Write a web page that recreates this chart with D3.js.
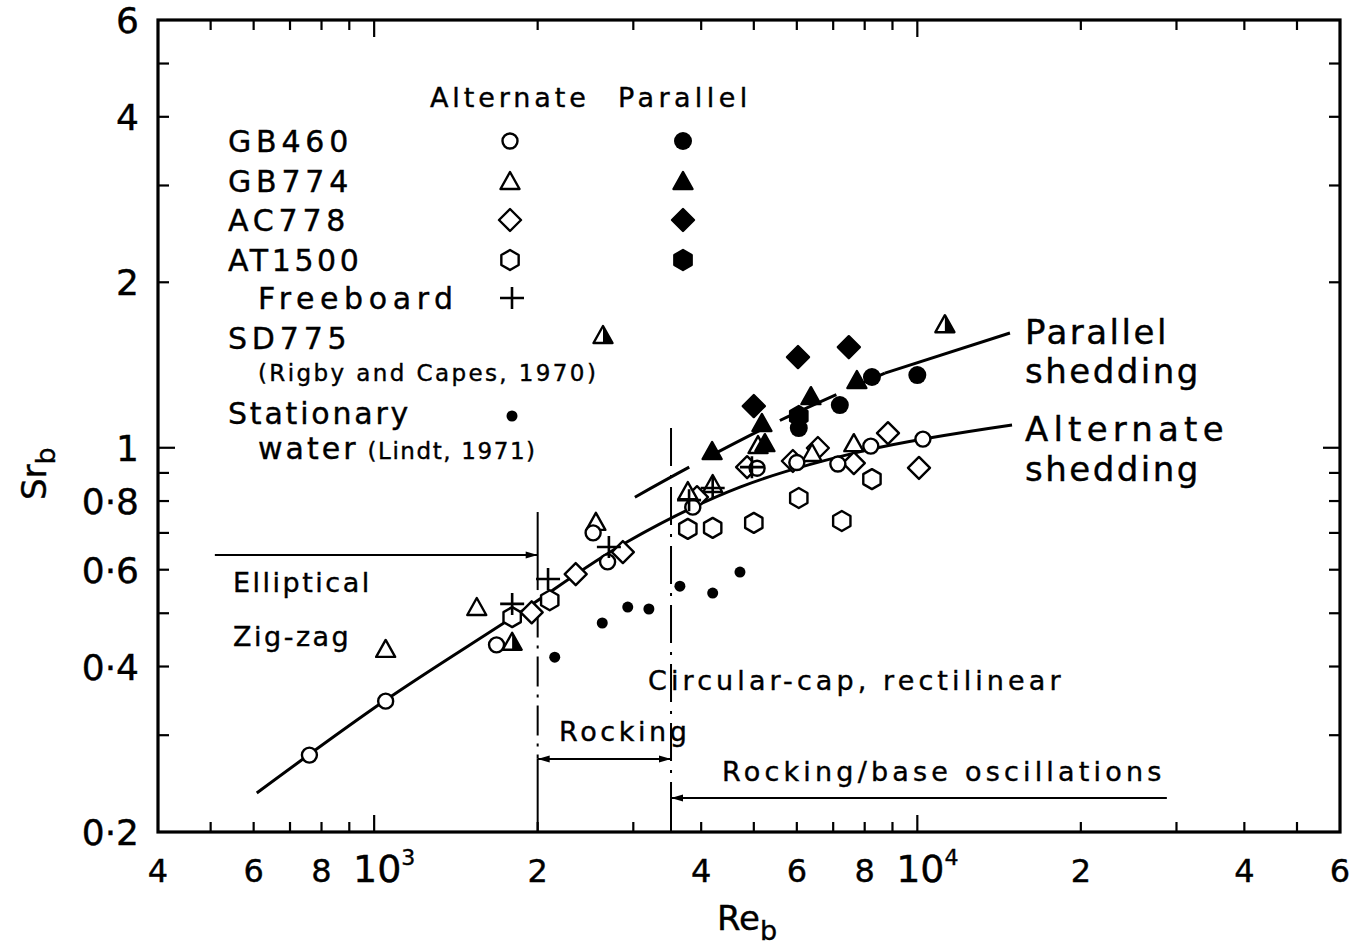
<!DOCTYPE html>
<html>
<head>
<meta charset="utf-8">
<script src="https://cdn.jsdelivr.net/npm/d3@7"></script>
<style>
  body { margin: 0; background: #fff; }
  svg text { font-family: "DejaVu Sans", sans-serif; fill: #000; stroke: #000; stroke-width: 0.4; }
</style>
</head>
<body>
<svg id="chart" width="1356" height="946"></svg>
<script>
// ---- data (Re_b, Sr_b) ----
const gb460Alt = [[760,0.276],[1050,0.346],[1680,0.438],[2530,0.70],[2690,0.62],[3860,0.78],
                  [5070,0.918],[6000,0.94],[7140,0.934],[8210,1.007],[10240,1.037]];
const gb460Par = [[6050,1.086],[7200,1.196],[8250,1.345],[10000,1.356]];
const gb774Alt = [[1050,0.427],[1545,0.509],[2560,0.727],[3780,0.827],[4200,0.852],
                  [5090,1.003],[6400,0.97],[7640,1.011]];
const gb774Par = [[4190,0.978],[5175,1.10],[5240,1.011],[6370,1.231],[7740,1.317]];
const ac778Alt = [[1950,0.502],[2350,0.589],[2870,0.646],[3930,0.813],[4860,0.922],
                  [5900,0.946],[6560,0.999],[7640,0.938],[8830,1.063],[10070,0.919]];
const ac778Par = [[5000,1.191],[6030,1.462],[7480,1.524]];
const at1500Alt = [[1795,0.492],[2105,0.528],[3780,0.712],[4200,0.715],[5000,0.73],
                   [6050,0.81],[7260,0.736],[8250,0.877]];
const at1500Par = [[6050,1.142]];
const freeboard = [[1795,0.52],[2090,0.577],[2705,0.66],[3800,0.803],[4200,0.845],[4960,0.922]];
const sd775 = [[1795,0.44],[11240,1.664]];
const stationary = [[2150,0.416],[2630,0.48],[2930,0.513],[3205,0.509],[3655,0.56],[4200,0.544],[4715,0.594]];

// fitted curves
const alternateCurve = [[608,0.2355],[1050,0.3475],[1801,0.492],[2920,0.674],[4715,0.848],[8076,0.99],[14940,1.10]];
const parallelDashed = [[3020,0.813],[3929,0.938],[5754,1.137],[8716,1.367]];
const parallelSolid = [[8716,1.367],[14810,1.617]];

// regime boundaries
const reEllipticEnd = 2000;
const reRockingEnd = 3520;
const reEllipticStart = 509;
const reBaseEnd = 28800;
const srEllipticArrow = 0.638;
const srRockingArrow = 0.2715;
const srBaseArrow = 0.2306;

// axes
const xTickValues = [500,600,700,800,900,1000,2000,3000,4000,5000,6000,7000,8000,9000,10000,20000,30000,40000,50000];
const xMajor = [1000,10000];
const xLabelValues = [400,600,800,1000,2000,4000,6000,8000,10000,20000,40000,60000];
const xLabelText = ['4','6','8','10','2','4','6','8','10','2','4','6'];
const xLabelSup = ['','','','3','','','','','4','','',''];
const yTickValues = [0.3,0.4,0.5,0.6,0.7,0.8,0.9,1,2,3,4,5];
const yMajor = [1];
const yLabelValues = [0.2,0.4,0.6,0.8,1,2,4,6];
const yLabelText = ['0·2','0·4','0·6','0·8','1','2','4','6'];

// ---- drawing ----
const svg = d3.select('#chart');
const x = d3.scaleLog().domain([400, 60000]).range([158, 1340]);
const y = d3.scaleLog().domain([0.2, 6]).range([832, 20]);
const plotL = x.range()[0], plotR = x.range()[1], plotT = y.range()[1], plotB = y.range()[0];

// ticks
const tk = svg.append('g').attr('stroke', '#000').attr('stroke-width', 2.2);
xTickValues.forEach(v => {
  const len = xMajor.includes(v) ? 17 : 10;
  tk.append('line').attr('x1', x(v)).attr('x2', x(v)).attr('y1', plotB).attr('y2', plotB - len);
  tk.append('line').attr('x1', x(v)).attr('x2', x(v)).attr('y1', plotT).attr('y2', plotT + len);
});
yTickValues.forEach(v => {
  const len = yMajor.includes(v) ? 17 : 11;
  tk.append('line').attr('y1', y(v)).attr('y2', y(v)).attr('x1', plotL).attr('x2', plotL + len);
  tk.append('line').attr('y1', y(v)).attr('y2', y(v)).attr('x1', plotR).attr('x2', plotR - len);
});

// tick labels
xLabelValues.forEach((v, i) => {
  const t = svg.append('text').attr('y', 882).attr('font-size', xLabelSup[i] ? 38 : 32)
    .attr('text-anchor', 'middle').attr('x', x(v) + (xLabelSup[i] ? 10 : 0)).text(xLabelText[i]);
  if (xLabelSup[i]) t.append('tspan').attr('font-size', 22).attr('dy', -17).text(xLabelSup[i]);
});
yLabelValues.forEach((v, i) => {
  svg.append('text').attr('x', 139).attr('y', y(v) + 13).attr('font-size', 36)
    .attr('text-anchor', 'end').text(yLabelText[i]);
});

// axis titles
svg.append('text').attr('transform', 'translate(46,500) rotate(-90)').attr('font-size', 34)
  .text('Sr').append('tspan').attr('font-size', 27).attr('dy', 9).text('b');
svg.append('text').attr('x', 717).attr('y', 930).attr('font-size', 34)
  .text('Re').append('tspan').attr('font-size', 27).attr('dy', 10).text('b');

// curves
const line = d3.line().x(d => x(d[0])).y(d => y(d[1])).curve(d3.curveCatmullRom.alpha(0.5));
svg.append('path').datum(alternateCurve).attr('d', line)
  .attr('fill', 'none').attr('stroke', '#000').attr('stroke-width', 3);
svg.append('path').datum(parallelDashed).attr('d', line)
  .attr('fill', 'none').attr('stroke', '#000').attr('stroke-width', 3).attr('stroke-dasharray', '62,20');
svg.append('path').datum(parallelSolid).attr('d', line)
  .attr('fill', 'none').attr('stroke', '#000').attr('stroke-width', 3);

// regime annotations
const ann = svg.append('g').attr('stroke', '#000').attr('stroke-width', 2).attr('fill', 'none');
function vline(re, s1, s2, dash) {
  const l = ann.append('line').attr('x1', x(re)).attr('x2', x(re)).attr('y1', y(s1)).attr('y2', y(s2));
  if (dash) l.attr('stroke-dasharray', dash);
}
vline(reEllipticEnd, 0.764, 0.551);
vline(reEllipticEnd, 0.512, 0.272, '30,8,3,8');
vline(reEllipticEnd, 0.272, 0.2);
vline(reRockingEnd, 1.086, 0.2306, '38,9,3,9');
vline(reRockingEnd, 0.2306, 0.2);
function hline(re1, re2, s) {
  ann.append('line').attr('x1', x(re1)).attr('x2', x(re2)).attr('y1', y(s)).attr('y2', y(s));
}
function head(re, s, dir) {
  const px = x(re), py = y(s);
  svg.append('path').attr('fill', '#000')
    .attr('d', `M${px},${py} L${px - dir * 12},${py - 3.5} L${px - dir * 12},${py + 3.5} Z`);
}
hline(reEllipticStart, reEllipticEnd, srEllipticArrow);
head(reEllipticEnd, srEllipticArrow, 1);
hline(reEllipticEnd, reRockingEnd, srRockingArrow);
head(reEllipticEnd, srRockingArrow, -1);
head(reRockingEnd, srRockingArrow, 1);
hline(reRockingEnd, reBaseEnd, srBaseArrow);
head(reRockingEnd, srBaseArrow, -1);

// annotation text
function label(txt, px, py, size, ls) {
  return svg.append('text').attr('x', px).attr('y', py).attr('font-size', size)
    .attr('letter-spacing', ls).text(txt);
}
label('Elliptical', 233, 592, 27, 2.5);
label('Zig-zag', 233, 646, 27, 2.5);
label('Circular-cap, rectilinear', 648, 690, 27, 4.1);
label('Rocking', 559, 741, 27, 3.6);
label('Rocking/base oscillations', 722, 781, 27, 4.2);
label('Parallel', 1025, 344, 34, 2.5);
label('shedding', 1025, 383, 34, 2.5);
label('Alternate', 1025, 441, 34, 5.2);
label('shedding', 1025, 481, 34, 2.5);

// markers
function marker(g, kind, filled, px, py) {
  const fill = filled ? '#000' : '#fff';
  const sw = 2.4;
  if (kind === 'circle') {
    g.append('circle').attr('cx', px).attr('cy', py).attr('r', filled ? 9 : 7.5)
      .attr('fill', fill).attr('stroke', '#000').attr('stroke-width', filled ? 0 : sw);
  } else if (kind === 'triangle') {
    g.append('path').attr('d', `M${px},${py - 11}L${px + 9.5},${py + 6}L${px - 9.5},${py + 6}Z`)
      .attr('fill', fill).attr('stroke', '#000').attr('stroke-width', sw).attr('stroke-linejoin', 'round');
  } else if (kind === 'half') {
    g.append('path').attr('d', `M${px},${py - 11}L${px + 9.5},${py + 6}L${px - 9.5},${py + 6}Z`)
      .attr('fill', '#fff').attr('stroke', '#000').attr('stroke-width', sw).attr('stroke-linejoin', 'round');
    g.append('path').attr('d', `M${px},${py - 11}L${px + 9.5},${py + 6}L${px},${py + 6}Z`).attr('fill', '#000');
  } else if (kind === 'diamond') {
    g.append('path').attr('d', `M${px},${py - 11}L${px + 11},${py}L${px},${py + 11}L${px - 11},${py}Z`)
      .attr('fill', fill).attr('stroke', '#000').attr('stroke-width', sw).attr('stroke-linejoin', 'round');
  } else if (kind === 'hexagon') {
    const pts = d3.range(6).map(k => {
      const a = (-90 + 60 * k) * Math.PI / 180;
      return [px + 10 * Math.cos(a), py + 10 * Math.sin(a)];
    });
    g.append('path').attr('d', 'M' + pts.join('L') + 'Z')
      .attr('fill', fill).attr('stroke', '#000').attr('stroke-width', sw).attr('stroke-linejoin', 'round');
  } else if (kind === 'plus') {
    g.append('path').attr('d', `M${px - 12},${py}H${px + 12}M${px},${py - 11}V${py + 11}`)
      .attr('stroke', '#000').attr('stroke-width', 2.6);
  } else if (kind === 'dot') {
    g.append('circle').attr('cx', px).attr('cy', py).attr('r', 5.5).attr('fill', '#000');
  }
}

const series = [
  { data: stationary, kind: 'dot', filled: true },
  { data: at1500Alt, kind: 'hexagon', filled: false },
  { data: ac778Alt, kind: 'diamond', filled: false },
  { data: gb774Alt, kind: 'triangle', filled: false },
  { data: gb460Alt, kind: 'circle', filled: false },
  { data: ac778Par, kind: 'diamond', filled: true },
  { data: gb774Par, kind: 'triangle', filled: true },
  { data: at1500Par, kind: 'hexagon', filled: true },
  { data: gb460Par, kind: 'circle', filled: true },
  { data: sd775, kind: 'half', filled: false },
  { data: freeboard, kind: 'plus', filled: false }
];
const pts = svg.append('g');
series.forEach(s => s.data.forEach(d => marker(pts, s.kind, s.filled, x(d[0]), y(d[1]))));

// legend
const leg = svg.append('g');
label('Alternate', 430, 107, 27, 3.9);
label('Parallel', 618, 107, 27, 4.4);
const legendRows = [
  { name: 'GB460', kind: 'circle', y: 141 },
  { name: 'GB774', kind: 'triangle', y: 181 },
  { name: 'AC778', kind: 'diamond', y: 220 },
  { name: 'AT1500', kind: 'hexagon', y: 260 }
];
legendRows.forEach(r => {
  label(r.name, 228, r.y + 11, 30, r.name.length > 5 ? 3.6 : 4.8);
  marker(leg, r.kind, false, 510, r.y + (r.kind === 'triangle' ? 2 : 0));
  marker(leg, r.kind, true, 683, r.y + (r.kind === 'triangle' ? 2 : 0));
});
label('Freeboard', 258, 309, 30, 5.6);
marker(leg, 'plus', false, 512, 298);
label('SD775', 228, 349, 30, 4.8);
marker(leg, 'half', false, 603, 337);
label('(Rigby and Capes, 1970)', 258, 381, 23, 2.4);
label('Stationary', 228, 424, 30, 2.8);
marker(leg, 'dot', true, 512, 416);
const w = label('water', 258, 459, 30, 3.0);
w.append('tspan').attr('font-size', 23).attr('letter-spacing', 1.6).text(' (Lindt, 1971)');

// frame
svg.append('rect').attr('x', plotL).attr('y', plotT).attr('width', plotR - plotL).attr('height', plotB - plotT)
  .attr('fill', 'none').attr('stroke', '#000').attr('stroke-width', 3.2);
</script>
</body>
</html>
